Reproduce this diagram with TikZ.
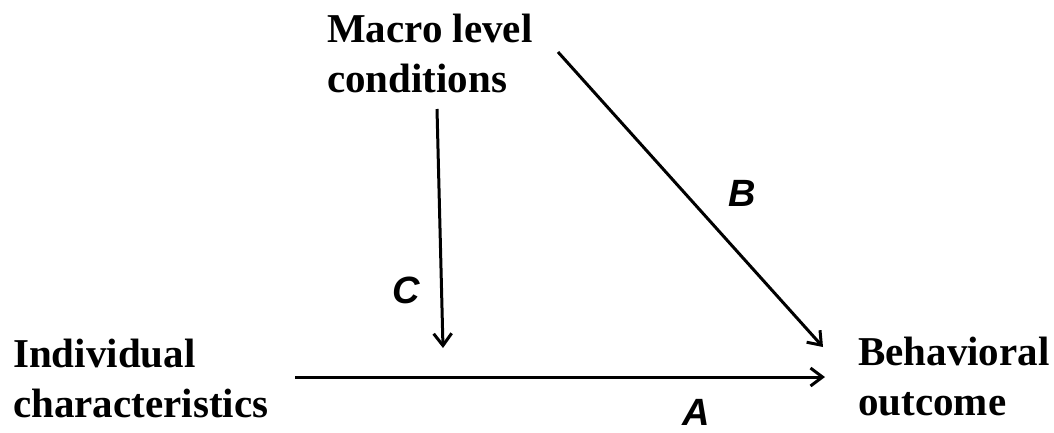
\documentclass[tikz,border=0pt]{standalone}
\usepackage{fontspec}
\setmainfont{Liberation Serif}
\newfontfamily\pathfont{Liberation Sans}
\usetikzlibrary{arrows.meta}

\tikzset{
    factor/.style={align=left, inner sep=0pt, font=\fontsize{41}{50}\selectfont\bfseries},
    effect/.style={line width=3pt, -{Straight Barb[length=12pt,width=18pt,line width=3pt]}},
    pathlabel/.style={inner sep=0pt, font=\pathfont\fontsize{38}{40}\selectfont\bfseries\itshape}
}

\begin{document}
\begin{tikzpicture}[x=1pt, y=-1pt]
    \useasboundingbox (0,0) rectangle (1054,432);

    % Variables
    \node[factor, anchor=north west] (macro) at (327,14) {Macro level\\conditions};
    \node[factor, anchor=north west] (indiv) at (13,339) {Individual\\characteristics};
    \node[factor, anchor=north west] (outcome) at (858,337) {Behavioral\\outcome};

    % Arrow ends
    \coordinate (aStart) at (295,377);
    \coordinate (aEnd) at (825,377);
    \coordinate (bStart) at (558,52);
    \coordinate (bEnd) at (823,347);
    \coordinate (cStart) at (437,109);
    \coordinate (cEnd) at (443,348);

    \draw[effect] (aStart) -- (aEnd);
    \draw[effect] (bStart) -- (bEnd);
    \draw[effect] (cStart) -- (cEnd);

    % Path labels
    \node[pathlabel] (labA) at (696,412) {A};
    \node[pathlabel] (labB) at (742,193) {B};
    \node[pathlabel] (labC) at (406,290) {C};

\end{tikzpicture}
\end{document}
